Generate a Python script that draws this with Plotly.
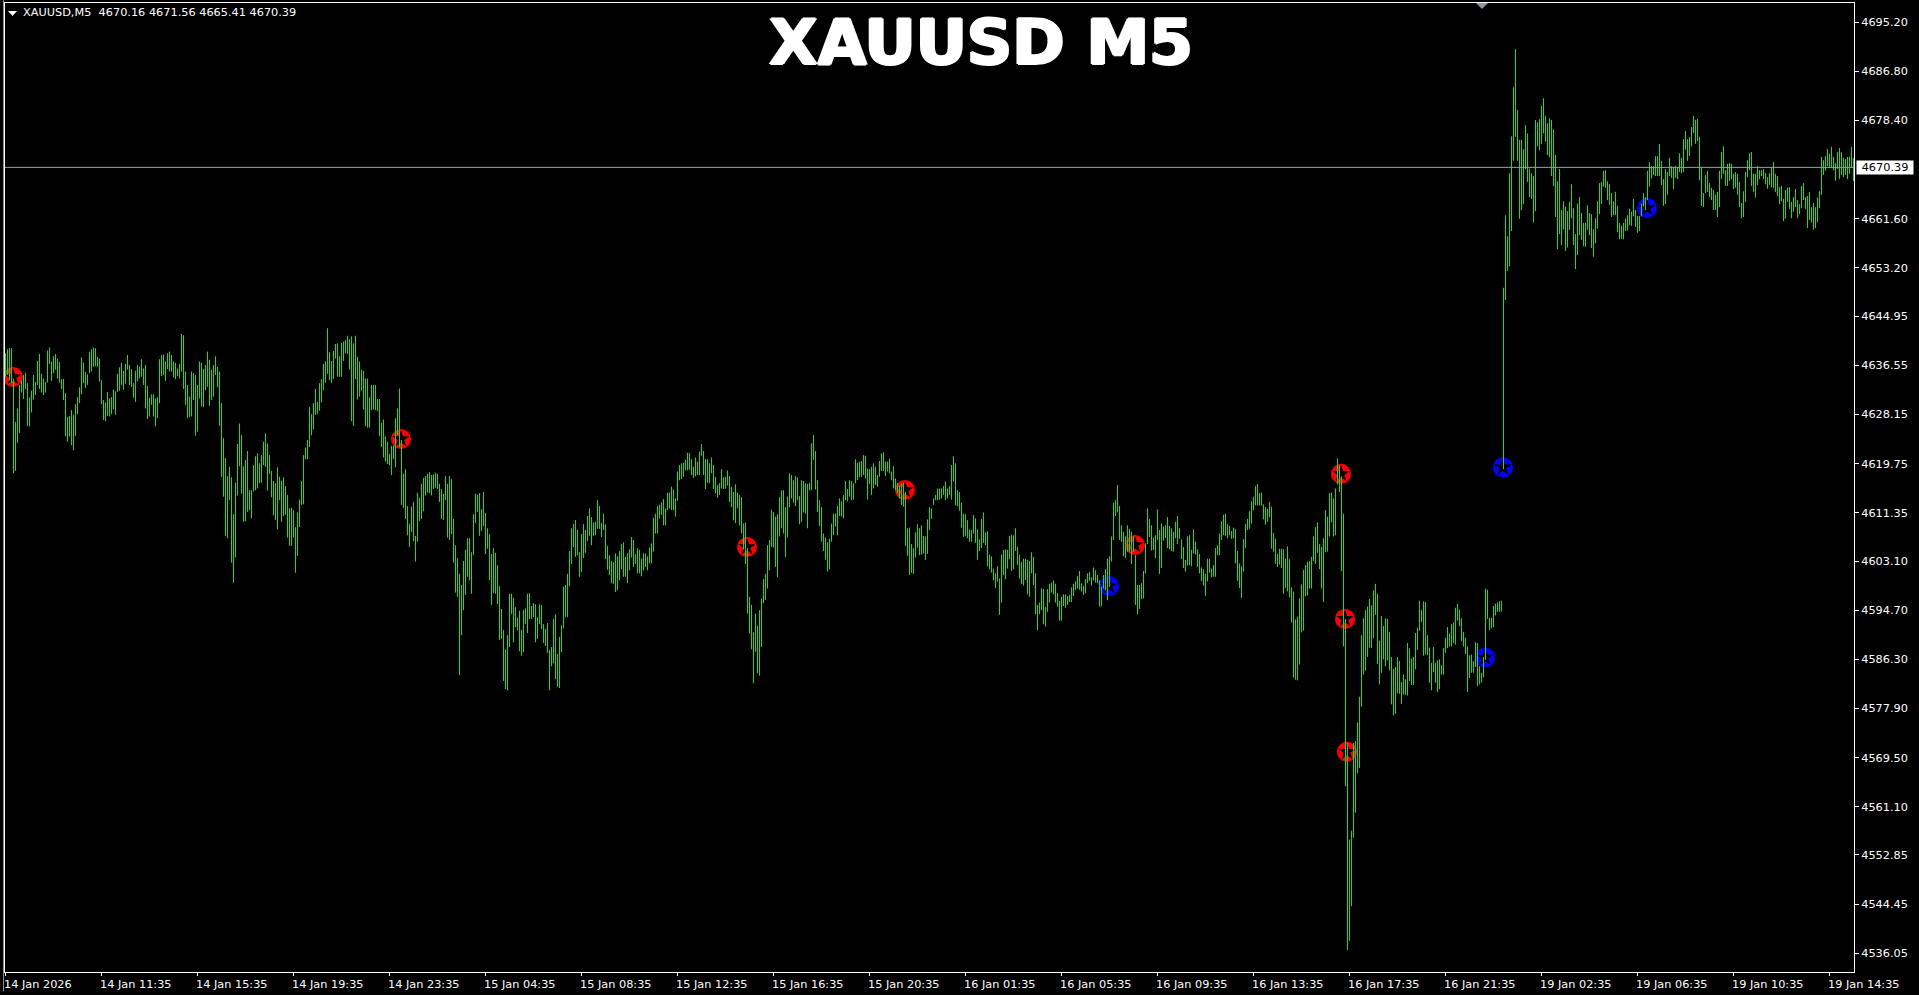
import plotly.graph_objects as go

BG = "#000000"
FG = "#ffffff"
BAR_GREEN = "#18e018"
FONT = "DejaVu Sans"
TEXT_SIZE = 11.3

# every block below is one 4-hour stretch of M5 bars (48 bars)
h00 = [4638.6,4639.3,4639.5,4639.5,4634.3,4626.9,4629.2,4633.2,4634.0,4634.9,4635.3,4633.5,4631.1,4632.2,4634.9,4633.7,4637.3,4638.5,4635.1,4634.3,4633.7,4639.1,4639.6,4637.2,4638.1,4638.5,4637.7,4637.1,4634.2,4634.2,4631.8,4627.7,4627.9,4628.9,4628.1,4629.9,4631.1,4632.8,4637.9,4637.0,4635.4,4635.0,4638.8,4639.3,4639.6,4639.5,4638.0,4637.7]
l00 = [4634.6,4634.9,4634.0,4633.5,4618.1,4618.5,4623.3,4625.0,4631.9,4630.8,4632.5,4626.2,4626.1,4628.5,4630.7,4631.5,4633.2,4632.5,4631.9,4631.5,4631.9,4633.6,4636.8,4633.9,4635.2,4635.8,4634.3,4633.6,4632.5,4630.6,4624.4,4623.5,4624.4,4622.9,4622.0,4624.5,4628.2,4630.1,4631.6,4633.5,4632.7,4633.2,4635.2,4635.5,4636.3,4636.4,4636.3,4633.8]
h01 = [4634.0,4630.6,4630.2,4632.0,4630.9,4631.1,4632.4,4632.1,4635.1,4636.2,4637.0,4635.6,4636.8,4638.3,4636.6,4635.9,4633.5,4635.6,4636.6,4636.3,4637.6,4636.0,4636.6,4633.0,4631.0,4631.6,4631.6,4630.9,4631.1,4637.6,4638.3,4638.4,4637.2,4638.6,4638.9,4638.3,4637.2,4637.0,4636.0,4636.8,4641.9,4641.7,4635.5,4633.2,4631.2,4635.5,4635.2,4634.9]
l01 = [4629.9,4627.2,4627.0,4627.9,4627.8,4628.2,4629.0,4628.1,4632.0,4632.2,4633.2,4632.4,4633.4,4635.8,4633.2,4632.9,4631.0,4630.3,4633.8,4634.3,4634.6,4633.2,4629.2,4627.4,4627.8,4629.8,4627.8,4626.1,4627.5,4630.1,4634.7,4634.9,4633.9,4635.9,4635.5,4635.5,4634.5,4634.2,4634.7,4634.3,4635.5,4632.5,4629.8,4627.5,4627.7,4627.8,4630.6,4624.5]
h02 = [4633.2,4637.2,4637.0,4635.9,4636.6,4638.9,4637.5,4635.8,4636.6,4638.1,4636.3,4635.5,4630.1,4624.1,4620.7,4617.6,4619.2,4617.4,4611.1,4616.5,4623.1,4626.6,4624.6,4619.3,4620.4,4621.9,4615.2,4615.2,4619.5,4621.0,4621.5,4619.8,4621.2,4623.5,4624.9,4623.2,4621.2,4618.5,4616.8,4616.4,4619.1,4617.5,4616.8,4617.4,4615.9,4614.4,4612.1,4612.2]
l02 = [4625.2,4630.9,4629.5,4629.4,4632.3,4632.9,4629.6,4630.6,4631.2,4634.9,4632.8,4626.2,4617.5,4614.1,4607.4,4607.0,4613.5,4602.8,4599.4,4603.7,4614.3,4619.3,4614.6,4609.8,4609.9,4611.5,4611.8,4610.4,4615.0,4615.2,4615.5,4616.4,4616.5,4619.5,4619.2,4615.1,4618.0,4614.0,4610.9,4610.1,4608.5,4613.5,4609.8,4610.8,4611.0,4607.1,4605.7,4605.7]
h03 = [4611.8,4608.9,4611.4,4613.6,4616.8,4621.2,4622.5,4623.8,4629.4,4628.2,4630.1,4632.5,4630.3,4633.5,4634.2,4636.8,4637.2,4642.9,4638.8,4637.3,4639.0,4640.2,4640.3,4638.1,4640.4,4640.6,4640.9,4641.6,4641.0,4641.5,4640.3,4641.6,4638.0,4637.2,4635.8,4635.6,4634.3,4634.3,4631.1,4633.2,4633.2,4633.2,4630.8,4630.8,4626.7,4627.3,4624.4,4623.5]
l03 = [4607.1,4601.1,4604.0,4608.9,4612.7,4612.8,4620.5,4620.5,4622.6,4624.6,4625.6,4628.1,4628.2,4628.8,4630.2,4632.3,4633.6,4635.1,4634.0,4633.5,4634.2,4637.7,4634.6,4634.6,4634.6,4637.3,4638.6,4638.5,4635.8,4627.0,4626.2,4634.2,4630.7,4631.2,4632.2,4629.0,4626.2,4625.9,4625.9,4628.9,4629.0,4628.9,4628.7,4624.5,4622.6,4620.8,4620.1,4619.7]
h04 = [4621.4,4622.8,4622.8,4627.5,4629.2,4632.6,4623.8,4618.0,4618.8,4612.5,4609.5,4612.4,4613.2,4607.4,4614.8,4613.9,4616.3,4617.3,4617.6,4618.0,4618.3,4617.8,4617.9,4618.2,4618.0,4616.3,4615.4,4614.6,4617.6,4616.3,4617.6,4617.1,4610.3,4605.8,4603.6,4600.9,4599.0,4603.1,4605.0,4607.0,4607.0,4604.6,4611.1,4614.6,4614.4,4614.7,4612.0,4614.9]
l04 = [4619.5,4617.8,4620.5,4619.1,4624.6,4622.6,4612.7,4612.2,4610.3,4607.5,4605.5,4608.1,4606.5,4603.0,4606.4,4609.9,4610.3,4611.6,4614.3,4614.8,4614.7,4614.3,4615.4,4615.6,4615.4,4613.2,4610.3,4610.1,4613.5,4607.1,4606.7,4607.7,4602.8,4597.7,4597.0,4583.6,4590.4,4594.7,4597.3,4600.4,4599.8,4597.5,4604.1,4609.6,4611.5,4607.4,4608.2,4609.1]
h05 = [4611.3,4608.7,4607.7,4604.3,4605.3,4604.5,4602.4,4598.8,4594.9,4591.3,4588.0,4590.4,4597.5,4597.5,4596.8,4595.2,4593.4,4594.6,4591.3,4594.7,4595.0,4597.5,4597.6,4595.4,4595.9,4595.7,4593.5,4595.7,4595.6,4592.3,4591.5,4592.5,4587.9,4588.4,4593.2,4594.0,4587.2,4590.1,4592.1,4598.7,4599.0,4600.9,4604.8,4608.7,4609.4,4610.1,4608.4,4604.6]
l05 = [4604.3,4605.2,4599.8,4595.6,4597.6,4597.5,4595.7,4589.6,4589.8,4582.6,4581.2,4581.0,4588.4,4594.0,4589.2,4591.8,4591.3,4587.7,4586.9,4587.5,4592.3,4590.8,4593.2,4593.2,4593.5,4589.2,4589.8,4592.3,4591.5,4589.1,4588.6,4587.4,4581.0,4585.1,4585.6,4582.9,4581.6,4581.4,4587.5,4591.6,4593.5,4593.5,4598.8,4602.6,4605.5,4603.8,4604.1,4600.4]
h06 = [4607.7,4609.4,4608.4,4610.8,4612.1,4610.6,4609.7,4609.8,4613.5,4612.5,4609.6,4611.2,4609.4,4605.7,4604.1,4603.1,4602.9,4604.4,4603.9,4604.8,4606.0,4606.3,4603.8,4604.4,4605.1,4607.2,4606.7,4604.3,4605.3,4605.0,4603.5,4604.4,4604.4,4603.9,4605.4,4606.1,4610.5,4611.2,4612.5,4612.7,4613.1,4613.7,4612.1,4614.8,4614.8,4615.8,4615.3,4613.8]
l06 = [4601.2,4603.6,4604.5,4606.5,4607.4,4605.8,4607.4,4607.5,4608.6,4608.6,4607.2,4608.4,4603.4,4601.6,4600.7,4599.3,4599.2,4597.8,4598.1,4599.8,4601.7,4600.4,4600.4,4599.3,4601.5,4603.7,4602.1,4602.6,4601.0,4601.0,4600.5,4601.5,4602.1,4601.5,4602.7,4602.7,4604.7,4607.8,4607.8,4610.4,4611.0,4609.2,4609.2,4611.8,4612.1,4611.8,4611.8,4610.7]
h07 = [4618.4,4619.5,4619.8,4619.9,4620.4,4621.6,4621.6,4620.5,4619.2,4620.8,4620.1,4621.8,4623.1,4621.9,4620.5,4620.5,4619.8,4620.8,4619.5,4617.5,4616.1,4616.4,4618.8,4617.4,4617.5,4618.6,4617.6,4615.8,4614.9,4616.2,4614.8,4614.4,4614.0,4609.5,4609.7,4605.3,4597.0,4595.6,4590.9,4594.1,4592.0,4594.7,4596.7,4600.0,4600.9,4605.8,4606.7,4611.9]
l07 = [4613.4,4616.9,4617.1,4617.5,4618.6,4618.6,4618.7,4617.8,4617.3,4617.6,4617.8,4617.8,4621.1,4617.8,4615.4,4616.5,4616.4,4618.1,4615.4,4614.7,4613.9,4614.4,4615.5,4615.4,4615.5,4616.0,4613.2,4612.3,4610.1,4609.6,4612.1,4609.2,4607.8,4605.1,4602.6,4594.1,4590.7,4588.0,4582.2,4587.6,4583.9,4583.5,4588.4,4595.9,4596.4,4598.4,4601.5,4605.5]
h08 = [4611.5,4610.7,4611.1,4614.0,4615.2,4615.2,4612.3,4614.1,4618.1,4617.8,4616.9,4617.6,4617.4,4614.2,4616.9,4616.8,4616.4,4616.3,4616.4,4623.2,4624.6,4621.9,4616.9,4613.5,4612.3,4607.8,4607.1,4606.3,4606.9,4609.5,4611.2,4611.2,4612.5,4613.8,4613.3,4614.4,4616.8,4615.4,4616.9,4616.8,4616.4,4620.5,4619.9,4620.1,4620.2,4621.2,4621.1,4618.9]
l08 = [4605.4,4602.1,4600.3,4607.3,4608.7,4607.8,4603.8,4607.1,4612.3,4613.8,4613.1,4612.5,4613.5,4609.4,4609.8,4611.4,4611.2,4608.7,4615.2,4615.2,4620.4,4615.3,4611.5,4609.1,4606.4,4604.8,4603.3,4601.3,4601.7,4606.4,4607.5,4609.0,4607.5,4610.8,4610.7,4610.4,4613.5,4613.3,4614.1,4613.5,4613.6,4616.4,4616.9,4617.4,4617.5,4617.8,4617.2,4613.6]
h09 = [4618.8,4619.2,4619.8,4619.2,4617.8,4620.2,4621.5,4621.7,4620.1,4620.1,4620.6,4618.4,4619.3,4617.2,4616.4,4616.0,4616.4,4616.4,4614.9,4608.7,4608.8,4606.0,4605.3,4608.0,4609.4,4608.7,4609.2,4607.4,4607.3,4610.2,4612.3,4612.1,4613.8,4614.4,4615.5,4615.5,4615.5,4615.9,4616.7,4615.5,4615.9,4619.5,4621.0,4619.8,4615.2,4614.9,4613.1,4611.2]
l09 = [4616.3,4614.4,4615.5,4616.1,4615.8,4617.5,4618.5,4618.5,4617.6,4618.4,4618.1,4616.9,4615.5,4615.2,4614.7,4613.8,4612.7,4612.4,4605.7,4604.0,4600.7,4601.1,4600.9,4603.7,4605.4,4604.1,4604.2,4604.4,4603.3,4604.3,4608.4,4610.3,4612.7,4613.5,4613.5,4613.6,4613.8,4614.4,4613.5,4613.8,4614.4,4613.6,4616.7,4612.6,4612.5,4611.7,4608.8,4607.2]
h10 = [4611.1,4610.1,4608.5,4608.4,4611.0,4610.4,4608.5,4606.8,4610.3,4611.4,4608.0,4608.2,4604.2,4603.9,4601.8,4601.0,4602.2,4600.1,4604.2,4605.0,4605.1,4605.0,4607.4,4607.6,4607.5,4608.7,4605.5,4604.2,4602.9,4603.5,4603.5,4603.3,4603.1,4604.6,4603.8,4601.0,4595.6,4596.0,4598.4,4598.3,4595.2,4598.3,4599.2,4599.4,4599.8,4599.2,4597.6,4596.3]
l10 = [4607.4,4607.0,4606.4,4606.4,4607.8,4606.2,4603.3,4604.8,4605.3,4606.2,4605.8,4602.2,4601.7,4601.1,4599.8,4598.5,4599.6,4593.9,4596.0,4600.7,4600.0,4601.8,4603.4,4601.4,4601.7,4604.8,4602.4,4600.1,4599.2,4598.9,4599.8,4597.4,4597.0,4601.0,4599.0,4594.0,4591.3,4594.0,4594.7,4592.3,4591.9,4594.4,4596.0,4597.7,4597.4,4596.0,4595.3,4592.9]
h11 = [4597.0,4597.4,4597.4,4597.1,4597.3,4598.6,4599.2,4599.6,4600.5,4601.4,4599.3,4598.8,4600.0,4601.0,4601.2,4600.3,4602.0,4601.5,4600.7,4599.8,4598.7,4600.7,4601.7,4603.5,4603.9,4607.3,4613.1,4613.5,4616.1,4612.5,4609.2,4608.1,4607.3,4609.2,4608.6,4608.1,4607.3,4604.1,4599.0,4599.0,4599.3,4601.4,4606.1,4612.1,4610.3,4609.2,4607.1,4607.5]
l11 = [4592.9,4595.4,4595.1,4595.6,4596.1,4596.1,4597.1,4598.1,4598.4,4598.2,4597.9,4597.3,4597.6,4599.3,4599.7,4598.9,4599.8,4599.4,4599.3,4595.3,4595.4,4598.4,4598.1,4596.4,4598.7,4603.0,4606.7,4610.8,4611.4,4606.7,4606.4,4603.9,4603.6,4604.7,4604.7,4602.6,4604.7,4595.6,4594.0,4594.9,4596.6,4596.7,4601.0,4606.0,4607.2,4604.9,4605.0,4603.6]
h12 = [4611.9,4608.4,4609.5,4609.0,4609.2,4610.6,4609.1,4608.7,4608.1,4609.8,4610.8,4608.7,4606.8,4605.5,4603.3,4607.3,4607.5,4605.0,4608.5,4606.4,4605.1,4604.3,4602.0,4601.7,4600.9,4603.5,4603.5,4601.8,4602.4,4605.3,4605.8,4607.8,4609.9,4611.0,4611.2,4609.4,4609.1,4608.2,4608.8,4608.6,4604.8,4602.7,4602.2,4606.8,4609.4,4610.3,4611.6,4613.3]
l12 = [4606.7,4600.9,4601.9,4606.6,4607.0,4605.3,4605.1,4604.8,4604.7,4607.0,4606.0,4606.9,4603.4,4601.9,4601.3,4602.3,4602.4,4602.2,4604.4,4604.2,4602.1,4601.0,4599.7,4598.9,4597.1,4599.6,4601.1,4600.3,4600.4,4600.4,4604.1,4604.1,4606.7,4607.5,4607.4,4607.0,4607.5,4606.9,4607.0,4602.7,4599.7,4598.5,4596.8,4601.3,4605.3,4608.4,4608.6,4609.5]
h13 = [4614.1,4615.9,4616.3,4614.7,4614.8,4612.8,4612.3,4612.0,4613.2,4612.4,4607.9,4606.9,4604.3,4605.2,4605.2,4605.1,4603.5,4605.6,4603.4,4598.6,4597.9,4593.1,4593.6,4596.7,4599.1,4601.6,4602.4,4603.0,4603.1,4603.8,4607.3,4608.9,4609.7,4606.0,4605.5,4607.0,4611.8,4610.7,4614.7,4614.8,4613.8,4615.5,4620.6,4619.4,4617.6,4611.2,4593.2,4572.0]
l13 = [4611.8,4612.6,4612.6,4612.6,4612.6,4610.2,4609.3,4609.8,4610.6,4605.2,4604.7,4602.6,4602.1,4602.5,4601.9,4597.5,4598.5,4597.9,4596.9,4592.6,4583.2,4582.8,4582.7,4585.4,4590.9,4591.2,4597.1,4597.2,4598.4,4598.4,4603.1,4602.6,4604.5,4601.7,4598.4,4596.1,4604.6,4604.7,4607.3,4609.7,4607.3,4607.5,4616.2,4614.9,4601.4,4588.5,4564.6,4536.6]
h14 = [4555.5,4557.0,4572.0,4572.3,4575.5,4579.9,4590.4,4593.3,4594.7,4595.3,4596.6,4595.5,4598.1,4599.2,4597.5,4589.5,4593.7,4592.0,4593.3,4593.2,4591.0,4586.7,4584.7,4585.0,4586.7,4586.0,4582.4,4583.7,4582.9,4589.1,4588.2,4586.4,4586.7,4590.8,4591.7,4596.3,4594.7,4596.2,4596.1,4590.4,4588.3,4585.7,4588.4,4585.7,4586.1,4586.3,4585.3,4588.2]
l14 = [4538.2,4544.1,4555.8,4560.1,4566.8,4567.7,4578.2,4583.7,4584.4,4586.7,4588.3,4588.2,4589.9,4593.9,4585.5,4582.0,4584.0,4586.3,4585.1,4586.1,4584.4,4578.6,4576.7,4577.0,4580.5,4580.4,4578.7,4580.3,4580.2,4580.1,4582.6,4581.9,4581.9,4584.6,4587.9,4591.2,4592.7,4586.9,4587.1,4587.0,4582.3,4581.0,4584.1,4582.3,4580.7,4581.2,4583.7,4583.7]
h15 = [4590.0,4591.8,4590.7,4592.3,4592.6,4595.1,4595.8,4594.8,4593.3,4591.0,4590.0,4588.5,4587.0,4587.1,4586.0,4589.2,4589.1,4585.1,4584.0,4586.7,4598.4,4598.2,4593.4,4593.4,4595.4,4595.8,4596.0,4596.2,4596.3,4649.8,4662.2,4658.6,4669.4,4675.7,4684.1,4690.6,4680.2,4675.1,4675.1,4673.5,4677.6,4676.2,4670.2,4669.4,4668.9,4678.5,4678.1,4678.6]
l15 = [4587.4,4588.2,4588.5,4588.5,4589.1,4588.8,4592.9,4592.0,4589.4,4588.5,4587.2,4580.7,4583.1,4584.0,4584.0,4585.0,4581.7,4582.0,4582.3,4583.2,4586.2,4593.2,4591.3,4591.6,4591.8,4593.8,4594.4,4594.4,4594.5,4618.8,4647.7,4652.7,4653.5,4659.5,4671.5,4675.6,4671.5,4661.6,4663.1,4664.1,4670.1,4667.9,4665.3,4665.0,4661.0,4662.9,4674.0,4673.3]
h16 = [4680.9,4682.2,4679.2,4677.9,4678.8,4678.5,4676.9,4672.5,4668.0,4670.1,4663.1,4664.6,4663.7,4662.9,4664.5,4667.5,4663.4,4659.0,4664.2,4665.3,4662.6,4660.9,4660.9,4663.9,4662.6,4662.4,4659.8,4661.7,4664.6,4667.7,4667.9,4669.8,4669.9,4668.0,4667.5,4666.0,4664.6,4666.2,4663.8,4660.9,4660.4,4660.9,4661.6,4662.2,4663.3,4662.8,4665.0,4663.1]
l16 = [4674.4,4676.2,4674.8,4672.5,4672.1,4668.9,4667.2,4661.9,4656.4,4659.0,4657.1,4659.8,4656.1,4656.7,4659.7,4661.7,4657.1,4653.0,4655.4,4658.8,4658.0,4656.9,4656.8,4659.7,4658.8,4656.6,4655.1,4657.4,4659.9,4662.4,4664.1,4667.1,4666.9,4664.8,4664.0,4661.9,4662.2,4662.2,4659.3,4658.1,4658.2,4658.1,4659.5,4659.6,4660.5,4660.4,4662.0,4660.2]
h17 = [4662.1,4662.1,4664.2,4666.0,4665.3,4669.8,4671.3,4670.6,4670.6,4672.3,4672.3,4674.4,4671.5,4668.4,4670.1,4669.6,4672.0,4670.6,4670.4,4670.6,4670.3,4672.8,4672.0,4675.2,4676.6,4675.2,4675.6,4677.3,4679.2,4678.5,4678.7,4675.6,4670.3,4666.0,4669.1,4669.8,4667.7,4666.9,4666.5,4665.7,4666.2,4669.8,4673.0,4674.0,4669.9,4671.0,4671.1,4671.0]
l17 = [4659.2,4659.5,4662.0,4663.7,4663.1,4664.8,4667.1,4668.5,4669.1,4668.9,4668.9,4668.9,4667.4,4663.8,4664.1,4665.7,4668.9,4668.6,4666.7,4668.6,4668.4,4669.6,4669.4,4669.6,4673.4,4671.5,4672.3,4674.0,4676.3,4674.4,4674.9,4668.2,4663.8,4663.6,4666.0,4666.2,4665.3,4664.8,4663.1,4663.1,4661.9,4663.6,4668.4,4669.3,4667.2,4667.2,4668.1,4668.4]
h18 = [4669.3,4669.6,4669.3,4667.9,4664.3,4666.3,4669.6,4671.6,4672.8,4673.0,4669.3,4669.3,4670.6,4669.9,4669.9,4670.1,4669.4,4668.7,4669.4,4670.3,4671.3,4669.3,4668.9,4667.0,4667.2,4665.0,4666.5,4666.9,4667.0,4664.5,4665.3,4666.7,4664.8,4664.1,4667.2,4667.7,4665.3,4665.5,4666.2,4663.6,4664.3,4663.6,4665.2,4666.3,4672.2,4671.6,4672.3,4673.5]
l18 = [4666.7,4666.9,4665.7,4663.6,4661.7,4661.9,4664.5,4668.7,4669.9,4667.2,4666.2,4665.2,4667.4,4668.4,4668.9,4668.4,4667.5,4666.7,4667.4,4667.0,4666.9,4666.2,4665.5,4664.1,4664.6,4661.2,4661.6,4664.5,4663.3,4661.7,4662.8,4663.6,4661.7,4662.4,4663.4,4664.8,4663.3,4660.0,4661.4,4661.0,4659.7,4660.0,4661.0,4663.4,4665.7,4669.1,4669.8,4670.6]
h19 = [4672.7,4673.9,4672.2,4671.1,4673.0,4673.7,4673.0,4672.0,4671.8,4672.2,4672.2,4673.9,4672.0]
l19 = [4670.3,4670.3,4669.9,4668.1,4670.1,4668.4,4669.1,4668.7,4669.1,4668.4,4669.3,4670.3,4668.1]

highs = [h00,h01,h02,h03,h04,h05,h06,h07,h08,h09,h10,h11,h12,h13,h14,h15,h16,h17,h18,h19]
lows = [l00,l01,l02,l03,l04,l05,l06,l07,l08,l09,l10,l11,l12,l13,l14,l15,l16,l17,l18,l19]
BARS_PER_BLOCK = 48

red_bar = [3.75, 197.75, 370.75, 449.75, 564.75, 667.75, 669.75, 670.75]
red_price = [4634.56, 4623.96, 4605.50, 4615.24, 4605.84, 4618.0, 4593.2, 4570.5]
blue_bar = [551.75, 739.75, 748.75, 820.75]
blue_price = [4598.83, 4586.6, 4619.1, 4663.45]

price_ticks = [4695.20, 4686.80, 4678.40, 4661.60, 4653.20, 4644.95, 4636.55, 4628.15, 4619.75, 4611.35,
               4603.10, 4594.70, 4586.30, 4577.90, 4569.50, 4561.10, 4552.85, 4544.45, 4536.05]
time_labels = ["14 Jan 2026", "14 Jan 11:35", "14 Jan 15:35", "14 Jan 19:35", "14 Jan 23:35",
               "15 Jan 04:35", "15 Jan 08:35", "15 Jan 12:35", "15 Jan 16:35", "15 Jan 20:35",
               "16 Jan 01:35", "16 Jan 05:35", "16 Jan 09:35", "16 Jan 13:35", "16 Jan 17:35",
               "16 Jan 21:35", "19 Jan 02:35", "19 Jan 06:35", "19 Jan 10:35", "19 Jan 14:35"]
LAST_PRICE = 4670.39
HEADER = "XAUUSD,M5  4670.16 4671.56 4665.41 4670.39"

# high/low pairs as one broken line, so the bars sit above the round markers
bar_x, bar_y = [], []
for k, (hs, ls) in enumerate(zip(highs, lows)):
    for j, (h, l) in enumerate(zip(hs, ls)):
        i = k * BARS_PER_BLOCK + j
        bar_x += [i, i, None]
        bar_y += [h, l, None]

fig = go.Figure()


def add_star_dots(x, y, color):
    fig.add_trace(go.Scatter(x=x, y=y, mode="markers", marker=dict(symbol="circle", size=20, color=color, line_width=0)))
    fig.add_trace(go.Scatter(x=x, y=y, mode="markers", marker=dict(symbol="star", size=13, color="#000000", line_width=0)))


add_star_dots(red_bar, red_price, "#ff0000")
add_star_dots(blue_bar, blue_price, "#0000ff")
fig.add_trace(go.Scatter(x=bar_x, y=bar_y, mode="lines", line=dict(color=BAR_GREEN, width=1), connectgaps=False))

WIDTH, HEIGHT = 1919, 995
L, R, T, B = 5, 65, 3, 23
plot_w = WIDTH - L - R

fig.update_xaxes(
    range=[-0.25, 924.25],
    tickvals=[n * BARS_PER_BLOCK for n in range(len(time_labels))],
    showticklabels=False,
    ticks="outside",
    ticklen=3,
    tickcolor=FG,
    tickwidth=1,
    showgrid=False,
    zeroline=False,
    showline=True,
    linecolor=FG,
    linewidth=1,
    mirror=True,
)
fig.update_yaxes(
    range=[4532.846, 4698.487],
    side="right",
    tickvals=price_ticks,
    ticktext=[f"{p:.2f}" for p in price_ticks],
    ticks="outside",
    ticklen=4,
    tickcolor=FG,
    tickwidth=1,
    tickfont=dict(family=FONT, size=TEXT_SIZE, color=FG),
    showgrid=False,
    zeroline=False,
    showline=True,
    linecolor=FG,
    linewidth=1,
    mirror=True,
)

annotations = [
    dict(text=lab, x=n * BARS_PER_BLOCK, y=0, xref="x", yref="paper", xanchor="left", yanchor="top",
         yshift=-4, xshift=-4, showarrow=False, font=dict(family=FONT, size=TEXT_SIZE, color=FG))
    for n, lab in enumerate(time_labels)
]
annotations.append(dict(text=HEADER, x=15.5 / plot_w, y=1, xref="paper", yref="paper", xanchor="left", yanchor="top",
                        yshift=-1, showarrow=False, font=dict(family=FONT, size=TEXT_SIZE, color=FG)))
annotations.append(dict(text=f"{LAST_PRICE:.2f}", x=1, y=LAST_PRICE, xref="paper", yref="y", xanchor="left",
                        xshift=2, showarrow=False, bgcolor=FG, width=56, height=13, borderpad=0,
                        font=dict(family=FONT, size=TEXT_SIZE, color="#000000")))

shapes = [
    dict(type="line", xref="paper", yref="y", x0=0, x1=1, y0=LAST_PRICE, y1=LAST_PRICE,
         line=dict(color="#9aa3ab", width=1), layer="above"),
    # chart window edge on the far left
    dict(type="line", xref="paper", yref="paper", x0=-1.5 / plot_w, x1=-1.5 / plot_w, y0=-0.02, y1=1.01,
         line=dict(color="#8c8c8c", width=1)),
    # one-click-trading arrow and the chart shift mark
    dict(type="path", xref="paper", yref="paper", xsizemode="pixel", ysizemode="pixel", xanchor=0, yanchor=1,
         path="M 3,-8 L 12,-8 L 7.5,-13 Z", fillcolor=FG, line_width=0),
    dict(type="path", xref="paper", yref="paper", xsizemode="pixel", ysizemode="pixel",
         xanchor=(1482 - L) / plot_w, yanchor=1, path="M -6,0 L 6,0 L 0,-6 Z", fillcolor="#8f97a0", line_width=0),
]

fig.update_layout(
    width=WIDTH,
    height=HEIGHT,
    margin=dict(l=L, r=R, t=T, b=B),
    paper_bgcolor=BG,
    plot_bgcolor=BG,
    showlegend=False,
    hovermode=False,
    title=dict(
        text="<b>XAUUSD M5</b>",
        x=981 / WIDTH,
        xanchor="center",
        y=1 - 42 / HEIGHT,
        yanchor="middle",
        font=dict(family=FONT, size=63, color=FG,
                  shadow="1.5px 0 0 #fff,-1.5px 0 0 #fff,0 1px 0 #fff,0 -1px 0 #fff"),
    ),
    annotations=annotations,
    shapes=shapes,
)

fig.write_html("out.html", config={"displayModeBar": False},
               post_script="document.body.style.margin='0';document.body.style.overflow='hidden';")
